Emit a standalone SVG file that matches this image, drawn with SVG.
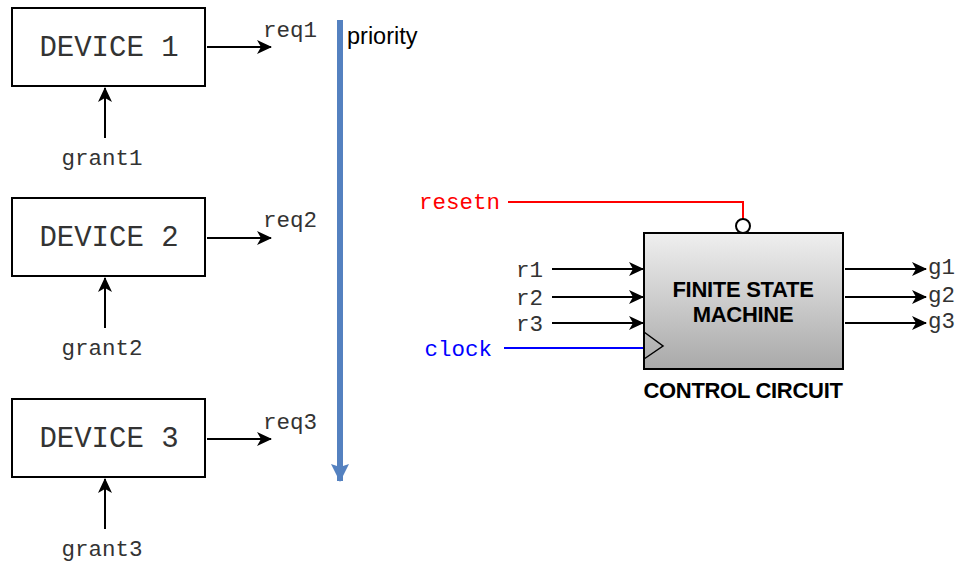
<svg xmlns="http://www.w3.org/2000/svg" width="961" height="562" viewBox="0 0 961 562">
<style>
.box{fill:#fff;stroke:#000;stroke-width:2}
.mono{font-family:"Liberation Mono","Courier New",monospace;fill:#333}
.dev{font-size:29px}
.lbl{font-size:22.5px}
.w{stroke:#000;stroke-width:2;fill:none}
.bold{font-family:"Liberation Sans",Arial,sans-serif;font-weight:bold;font-size:22px;fill:#000;text-anchor:middle;letter-spacing:-0.3px}
</style>
<defs>
<marker id="ah" viewBox="0 0 15 14" refX="14" refY="7" markerWidth="15" markerHeight="14" markerUnits="userSpaceOnUse" orient="auto">
<path d="M0,0 L15,7 L0,14 L4,7 Z" fill="#000"/>
</marker>
<marker id="bh" viewBox="0 0 18 18" refX="17" refY="9" markerWidth="18" markerHeight="18" markerUnits="userSpaceOnUse" orient="auto">
<path d="M0,0 L18,9 L0,18 L3,9 Z" fill="#5481c0"/>
</marker>
<linearGradient id="g" x1="0" y1="0" x2="0" y2="1">
<stop offset="0" stop-color="#efefef"/>
<stop offset="1" stop-color="#a9a9a9"/>
</linearGradient>
</defs>
<g id="connectors">
<line class="w" x1="207" y1="47" x2="271" y2="47" marker-end="url(#ah)"/>
<line class="w" x1="207" y1="238" x2="271" y2="238" marker-end="url(#ah)"/>
<line class="w" x1="207" y1="439" x2="271" y2="439" marker-end="url(#ah)"/>
<line class="w" x1="105" y1="138" x2="105" y2="88" marker-end="url(#ah)"/>
<line class="w" x1="105" y1="328" x2="105" y2="278" marker-end="url(#ah)"/>
<line class="w" x1="105" y1="529" x2="105" y2="479" marker-end="url(#ah)"/>
<line x1="340" y1="20" x2="340" y2="481" stroke="#5481c0" stroke-width="6" marker-end="url(#bh)"/>
<path d="M508,202 H743 V219" fill="none" stroke="#f00" stroke-width="2"/>
<line class="w" x1="552" y1="269" x2="643" y2="269" marker-end="url(#ah)"/>
<line class="w" x1="552" y1="297" x2="643" y2="297" marker-end="url(#ah)"/>
<line class="w" x1="552" y1="323" x2="643" y2="323" marker-end="url(#ah)"/>
<line x1="504" y1="348" x2="645" y2="348" stroke="#00f" stroke-width="2"/>
<line class="w" x1="845" y1="269" x2="926" y2="269" marker-end="url(#ah)"/>
<line class="w" x1="845" y1="297" x2="926" y2="297" marker-end="url(#ah)"/>
<line class="w" x1="845" y1="323" x2="926" y2="323" marker-end="url(#ah)"/>
</g>
<g id="device1">
<rect class="box" x="12" y="8" width="193" height="78"/>
<text class="mono dev" x="109" y="56" text-anchor="middle">DEVICE 1</text>
</g>
<g id="device2">
<rect class="box" x="12" y="198" width="193" height="78"/>
<text class="mono dev" x="109" y="246" text-anchor="middle">DEVICE 2</text>
</g>
<g id="device3">
<rect class="box" x="12" y="399" width="193" height="78"/>
<text class="mono dev" x="109" y="447" text-anchor="middle">DEVICE 3</text>
</g>
<g id="labels">
<text class="mono lbl" x="263" y="37">req1</text>
<text class="mono lbl" x="263" y="227">req2</text>
<text class="mono lbl" x="263" y="429">req3</text>
<text class="mono lbl" x="102" y="165" text-anchor="middle">grant1</text>
<text class="mono lbl" x="102" y="355" text-anchor="middle">grant2</text>
<text class="mono lbl" x="102" y="556" text-anchor="middle">grant3</text>
<text x="347" y="44" font-family="Liberation Sans,Arial,sans-serif" font-size="23.5" fill="#000">priority</text>
</g>
<g id="fsm">
<rect x="644" y="233" width="199" height="136" fill="url(#g)" stroke="#000" stroke-width="2"/>
<circle cx="743" cy="226" r="7" fill="#fff" stroke="#000" stroke-width="2"/>
<path d="M644,332 L663,346 L644,359" fill="none" stroke="#000" stroke-width="1.5"/>
<text class="bold" x="743" y="297">FINITE STATE</text>
<text class="bold" x="743" y="322">MACHINE</text>
<text class="bold" x="743" y="398">CONTROL CIRCUIT</text>
</g>
<g id="fsm-labels">
<text class="mono lbl" x="500" y="209" text-anchor="end" style="fill:#f00">resetn</text>
<text class="mono lbl" x="543" y="277" text-anchor="end">r1</text>
<text class="mono lbl" x="543" y="305" text-anchor="end">r2</text>
<text class="mono lbl" x="543" y="331" text-anchor="end">r3</text>
<text class="mono lbl" x="492" y="356" text-anchor="end" style="fill:#00f">clock</text>
<text class="mono lbl" x="928" y="274">g1</text>
<text class="mono lbl" x="928" y="302">g2</text>
<text class="mono lbl" x="928" y="328">g3</text>
</g>
</svg>
